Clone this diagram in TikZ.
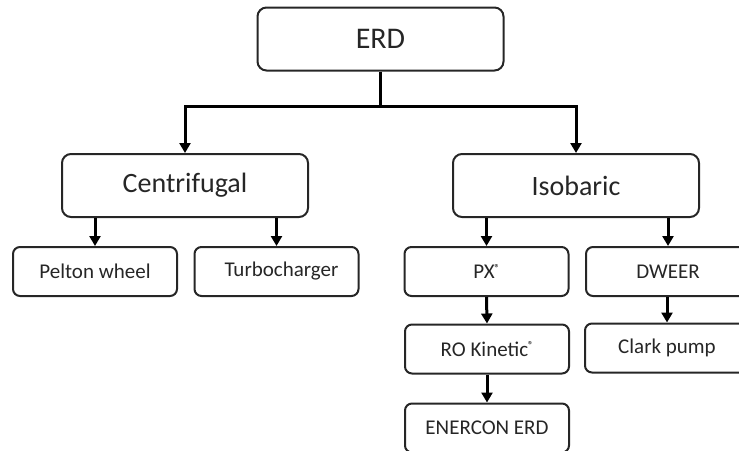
\documentclass[tikz,border=0pt]{standalone}
\usepackage{fontspec}
\setmainfont{Carlito}
\usetikzlibrary{arrows.meta}
\newcommand{\regmark}{\raisebox{7.5pt}{\fontsize{10}{10}\selectfont\bfseries\char"00AE}}
\begin{document}
\begin{tikzpicture}[x=1pt,y=-1pt,
  bigbox/.style={draw=black!85, line width=2pt, rounded corners=9pt, minimum width=246pt, minimum height=63pt, inner sep=0pt, font=\fontsize{28}{30}\selectfont, text=black!85},
  smallbox/.style={draw=black!85, line width=2pt, rounded corners=7pt, minimum width=164pt, minimum height=49pt, inner sep=0pt, font=\fontsize{21}{24}\selectfont, text=black!85},
  conn/.style={line width=3pt, black},
  arr/.style={conn, -{Triangle[length=10pt,width=11pt]}}]
\useasboundingbox (0,0) rectangle (739,450);
\clip (0,0) rectangle (739,450);
\node[bigbox, font=\fontsize{30}{32}\selectfont] (erd) at (380.5,39) {ERD};
\node[bigbox] (cen) at (185,185.5) {Centrifugal};
\node[bigbox] (iso) at (576,185.5) {Isobaric};
\node[smallbox] (pel) at (95,271.5) {Pelton wheel};
\node[smallbox] (tur) at (276.5,271.5) {\hspace*{10pt}Turbocharger};
\node[smallbox] (px) at (486.5,271.5) {PX\regmark};
\node[smallbox] (dw) at (668,271.5) {DWEER};
\node[smallbox] (rok) at (487,349) {RO Kinetic\regmark};
\node[smallbox] (clk) at (667,348) {Clark pump};
\node[smallbox] (ene) at (487,428) {ENERCON ERD};
\coordinate (j) at (380.5,106);
\draw[conn] (erd.south) -- (j);
\draw[arr] (j) -| (cen.north);
\draw[arr] (j) -| (iso.north);
\draw[arr] (cen.south -| pel.north) -- (pel.north);
\draw[arr] (cen.south -| tur.north) -- (tur.north);
\draw[arr] (iso.south -| px.north) -- (px.north);
\draw[arr] (iso.south -| dw.north) -- (dw.north);
\draw[arr] (px.south) -- (rok.north);
\draw[arr] (dw.south -| clk.north) -- (clk.north);
\draw[arr] (rok.south) -- (ene.north);
\end{tikzpicture}
\end{document}
